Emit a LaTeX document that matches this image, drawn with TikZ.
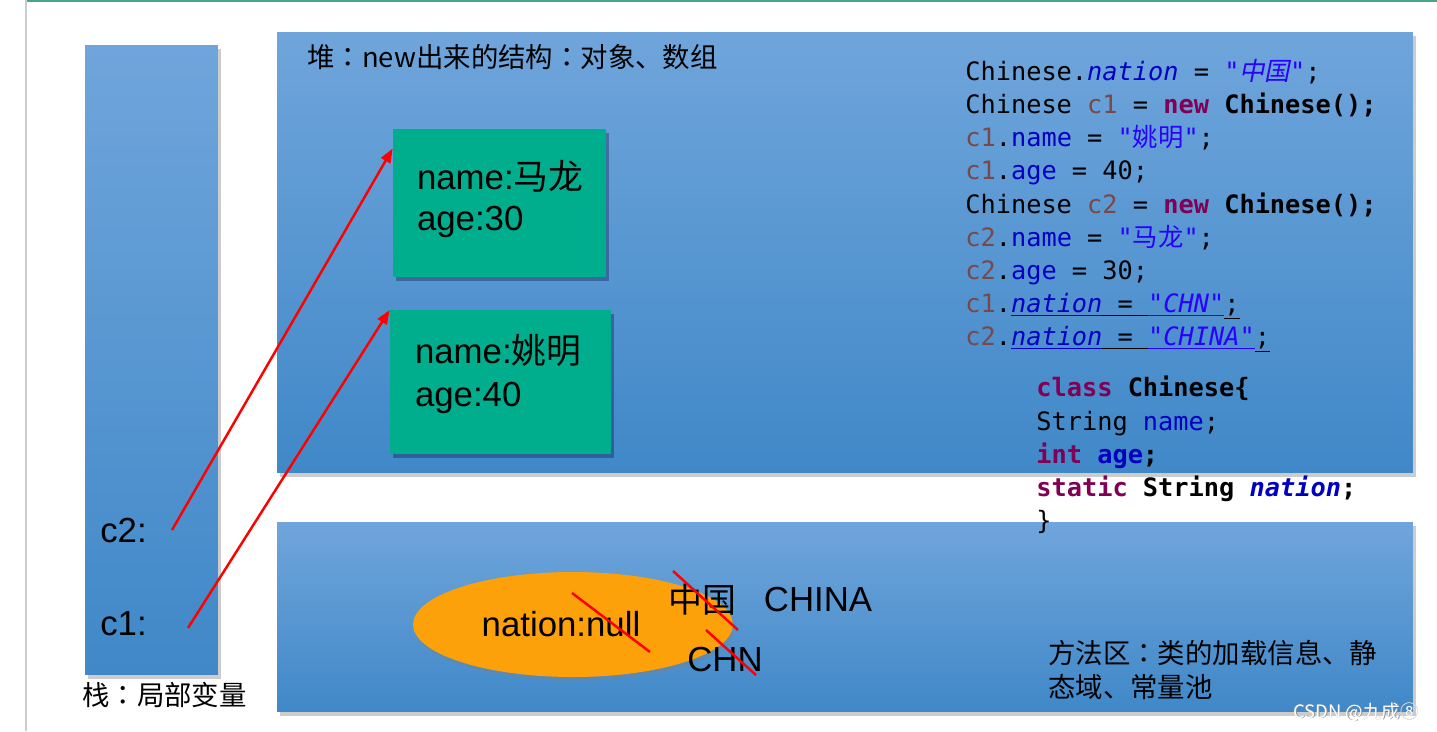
\documentclass[tikz,border=0pt]{standalone}
\usepackage{fontspec}
\setmainfont{Liberation Sans}
\newfontfamily\cjk{Noto Sans CJK SC}
\newfontfamily\cjktc{Noto Sans CJK TC}
\newfontfamily\cjkit{Noto Sans CJK SC}[FakeSlant=0.2]
\newfontfamily\codefont{DejaVu Sans Mono}
\usetikzlibrary{arrows.meta,shadows,shapes.geometric}

\definecolor{boxtop}{RGB}{111,165,219}
\definecolor{boxbot}{RGB}{64,136,200}
\definecolor{objgreen}{RGB}{0,174,142}
\definecolor{ovalorange}{RGB}{252,161,10}
\definecolor{kwpurple}{RGB}{127,0,85}
\definecolor{varbrown}{RGB}{122,72,72}
\definecolor{fieldblue}{RGB}{0,0,192}
\definecolor{strblue}{RGB}{42,0,255}
\definecolor{frameteal}{RGB}{70,165,140}

\newcommand{\kw}[1]{\textcolor{kwpurple}{\textbf{#1}}}
\newcommand{\lvar}[1]{\textcolor{varbrown}{#1}}
\newcommand{\fld}[1]{\textcolor{fieldblue}{#1}}
\newcommand{\sfld}[1]{\textcolor{fieldblue}{\textit{#1}}}
\newcommand{\strlit}[1]{\textcolor{strblue}{#1}}
\newcommand{\cn}{{\cjktc ：}}

\tikzset{
    membox/.style={top color=boxtop, bottom color=boxbot,
        drop shadow={shadow xshift=1.5pt, shadow yshift=-2.5pt, opacity=0.4}},
    objbox/.style={fill=objgreen, align=left, inner ysep=0pt,
        font=\fontsize{19.8}{23.5}\selectfont,
        drop shadow={shadow xshift=1.5pt, shadow yshift=-2pt, fill=black!80!blue, opacity=0.3}},
    code/.style={font=\codefont\fontsize{14.4}{18.85}\selectfont, align=left, inner sep=0pt},
    big/.style={font=\fontsize{19.8}{23.5}\selectfont, inner sep=0pt},
    title/.style={font=\cjk\fontsize{15.6}{19.3}\selectfont, inner sep=0pt, align=left},
    ptr/.style={red, line width=1.4pt, -{Triangle[length=8pt,width=6pt]}},
    strike/.style={red, line width=1.4pt},
}

\begin{document}
\begin{tikzpicture}[x=0.02cm, y=-0.02cm]
            \useasboundingbox (0,0) rectangle (1437,731);
            \draw[frameteal, line width=1.2pt] (27,1)--(1437,1);
            \draw[black!20, line width=0.8pt] (26,0)--(26,731);

            % stack, heap and method area
            \node[membox, minimum width=2.66cm, minimum height=12.6cm] (stack) at (151.5,360) {};
            \node[membox, minimum width=22.72cm, minimum height=8.82cm] (heap) at (845,252.5) {};
            \node[membox, minimum width=22.72cm, minimum height=3.8cm] (method) at (845,617) {};

            \node[title, anchor=west] (stacktitle) at (82,695) {栈\cn 局部变量};
            \node[title, anchor=west] (heaptitle) at (307,57) {堆\cn new出来的结构\cn 对象、数组};
            \node[title, anchor=west] (methodtitle) at (1048,670) {方法区\cn 类的加载信息、静\\态域、常量池};

            % objects
            \node[objbox, text width=3.3cm, inner xsep=0.48cm, minimum height=2.96cm, text depth=32.3pt] (malong) at (499.5,203)
                {name:{\cjk 马龙}\\age:30};
            \node[objbox, text width=3.42cm, inner xsep=0.5cm, minimum height=2.88cm, text depth=37.7pt] (yaoming) at (500.5,382)
                {name:{\cjk 姚明}\\[1pt]age:40};

            \node[big, anchor=west] (c2lbl) at (100,531) {c2:};
            \node[big, anchor=west] (c1lbl) at (100,624) {c1:};
            \coordinate (c2ptr) at (172,530);
            \coordinate (c1ptr) at (188,628);
            \draw[ptr] (c2ptr) -- (malong.153);
            \draw[ptr] (c1ptr) -- (yaoming.147);

            % static field
            \node[ellipse, fill=ovalorange, minimum width=6.4cm, minimum height=2.1cm,
                drop shadow={shadow xshift=1pt, shadow yshift=-2pt, opacity=0.35}] (nation) at (573,624.5) {};
            \node[big] (nullval) at (561,624) {nation:null};
            \node[big, font=\cjk\fontsize{19.3}{23}\selectfont] (zhongguo) at (702,600) {中国};
            \node[big] (china) at (818,600) {CHINA};
            \node[big] (chn) at (725,660) {CHN};
            \draw[strike] (572,593)--(650,652);
            \draw[strike] (673,571)--(738,630);
            \draw[strike] (706,630)--(756,675);

            % code
            \node[code, anchor=west] (mainsrc) at (965,206) {Chinese.\sfld{nation} = \strlit{\textit{"}{\cjkit 中国}\textit{"}};\\
                Chinese \lvar{c1} = \kw{new} \textbf{Chinese();}\\
                \lvar{c1}.\fld{name} = \strlit{"{\cjk 姚明}"};\\
                \lvar{c1}.\fld{age} = 40;\\
                Chinese \lvar{c2} = \kw{new} \textbf{Chinese();}\\
                \lvar{c2}.\fld{name} = \strlit{"{\cjk 马龙}"};\\
                \lvar{c2}.\fld{age} = 30;\\
                \lvar{c1}.\textcolor{fieldblue}{\underline{\textit{nation}}}\underline{ = }\textcolor{strblue}{\underline{\textit{"CHN"}}}\underline{;}\\
                \lvar{c2}.\textcolor{fieldblue}{\underline{\textit{nation}}}\underline{ = }\textcolor{strblue}{\underline{\textit{"CHINA"}}}\underline{;}};
            \node[code, anchor=west] (classsrc) at (1036,455) {\kw{class} \textbf{Chinese\{}\\
                String \fld{name};\\
                \kw{int} \textbf{\fld{age};}\\
                \textbf{\kw{static} String \sfld{nation};}\\
                \}};

            \node[font=\cjk\fontsize{10.5}{12}\selectfont, text=black!45, inner sep=0pt] (markshadow) at (1356.6,712.6) {CSDN @九成⑧};
            \node[font=\cjk\fontsize{10.5}{12}\selectfont, text=white, inner sep=0pt] (mark) at (1356,712) {CSDN @九成⑧};
        \end{tikzpicture}
\end{document}
